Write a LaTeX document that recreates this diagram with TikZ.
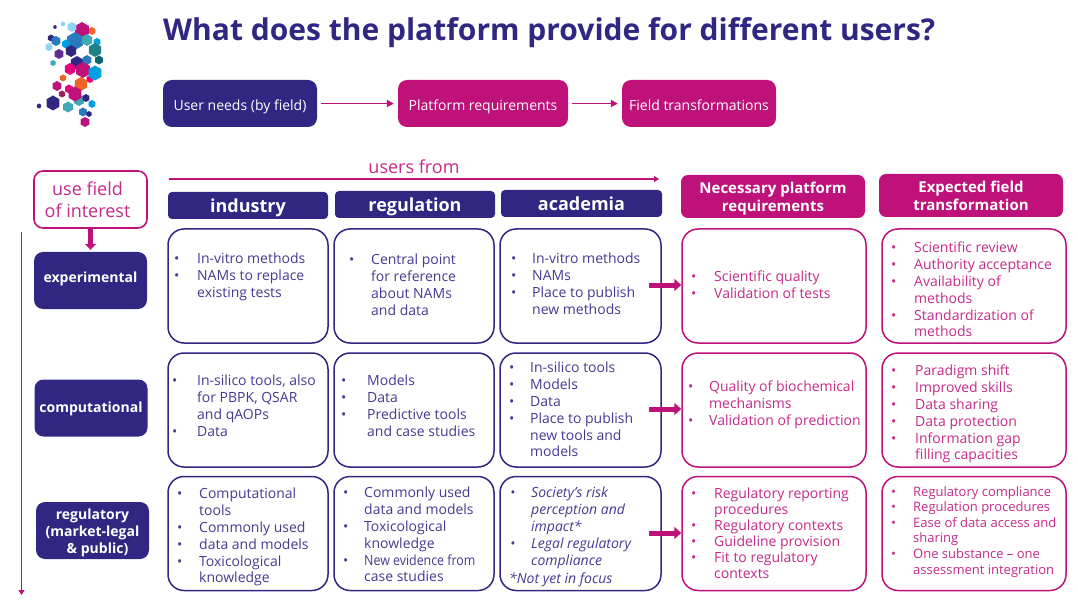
\documentclass[tikz,border=0pt]{standalone}
\usepackage{fontspec}
\setmainfont{Open Sans}
\usetikzlibrary{arrows.meta}
\definecolor{navy}{HTML}{312783}
\definecolor{mag}{HTML}{BE1179}
\definecolor{navytxt}{HTML}{453A91}
\definecolor{magtxt}{HTML}{C42A8A}
\newlength\bulw
\newcommand{\bl}{\makebox[\bulw][l]{\textbullet}}
\newcommand{\cn}{\hspace*{\bulw}}
\newcommand{\dn}[2][-2pt]{\raisebox{#1}[\height][\depth]{#2}}
\tikzstyle{Head}=[draw=none,rounded corners=4pt,inner sep=0pt,align=center,text=white,font=\fontsize{15}{18}\selectfont\bfseries]
\tikzstyle{Navy}=[fill=navy]
\tikzstyle{Mag}=[fill=mag]
\tikzstyle{Top}=[rounded corners=9pt,inner sep=0pt,text=white,font=\fontsize{14}{17}\selectfont]
\tikzstyle{Field}=[Navy,rounded corners=9pt,inner sep=0pt,minimum width=113pt,minimum height=57pt,align=center,text=white,font=\fontsize{14}{17}\selectfont\bfseries]
\tikzstyle{Box}=[draw,rounded corners=16pt,line width=1.5pt,inner sep=0pt]
\tikzstyle{Txt}=[inner sep=0pt,anchor=north west,align=left,font=\fontsize{14}{16.8}\selectfont]
\tikzstyle{Line}=[-{Stealth[length=7pt,width=7pt,inset=0pt]},mag,line width=1.7pt]
\tikzstyle{Axis}=[-{Stealth[length=5pt,width=6pt,inset=0pt]},mag,line width=1.3pt]
\tikzstyle{Thick}=[-{Stealth[length=7pt,width=12pt,inset=0pt]},mag,line width=5pt]
\tikzset{bw/.code={\setlength\bulw{#1}}}
\begin{document}
\begin{tikzpicture}[x=1pt,y=-1pt]
    \useasboundingbox (0,0) rectangle (1078,612);

    % logo
    \foreach \x/\y/\r/\c in {79/100/6/3FA9B5,92/31/4/F0642A,97/42/4/00A0E0,90/79/4/E6007E,
        82/30/8/BE1179,75/41/9/2A7ABF,87/40/6/3FA9B5,72/27/5/8FD3F5,63/24/2.5/8FD3F5,55/27/2/312783,
        51/38/3.5/312783,56/41/5/2A7ABF,49/47/4/8FD3F5,66/44/4.5/00A0E0,71/51/6/312783,59/54/5/5F2D91,
        53/63/3/3FA9B5,77/63/7/312783,87/60/5/2A7ABF,70/69/6/E6007E,83/70/8/BE1179,95/73/7.5/00A0E0,
        95/50/7/1F8085,99/60/4.5/0E6570,63/78/3.5/F0642A,81/84/7/F0642A,57/86/5/BE1179,69/89/4.5/E6007E,
        62/94/3.5/A01D5D,75/94/7.5/BE1179,86/98/4/312783,92/104/4/00A0E0,53/103/7.5/312783,39/106/2.5/312783,
        68/107/5.5/3FA9B5,83/112/4.5/2A7ABF,89/114/3/312783,85/122/5/BE1179}{
        \definecolor{hexc}{HTML}{\c}
        \fill[hexc] (\x,\y-\r) -- ++(0.866*\r,0.5*\r) -- ++(0,\r) -- ++(-0.866*\r,0.5*\r) -- ++(-0.866*\r,-0.5*\r) -- ++(0,-\r) -- cycle;
    }

    \node[inner sep=0pt,text=navy,anchor=west,font=\fontsize{30}{34}\selectfont\bfseries] (title) at (163,33) {What does the platform provide for different users?};

    \node[Top,Navy,minimum width=154pt,minimum height=47pt] (need) at (240,103.5) {\dn[-3pt]{User needs (by field)}};
    \node[Top,Mag,minimum width=170pt,minimum height=47pt] (plat) at (483,103.5) {\dn[-3pt]{Platform requirements}};
    \node[Top,Mag,minimum width=154pt,minimum height=47pt] (tran) at (699,103.5) {\dn{Field transformations}};
    \draw[Line,shorten <=4pt,shorten >=4pt] (need) to (plat);
    \draw[Line,shorten <=4pt,shorten >=4pt] (plat) to (tran);

    % column heads
    \coordinate (ua) at (169,179);
    \coordinate (ub) at (659,179);
    \draw[Axis] (ua) to (ub);
    \node[inner sep=0pt,text=magtxt,font=\fontsize{18}{22}\selectfont] (users) at (414,167) {users from};
    \node[Head,Navy,minimum width=160pt,minimum height=27pt,font=\fontsize{18}{22}\selectfont\bfseries] (hind) at (248,205.5) {\dn{industry}};
    \node[Head,Navy,minimum width=160pt,minimum height=27pt,font=\fontsize{18}{22}\selectfont\bfseries] (hreg) at (415,204.5) {\dn{regulation}};
    \node[Head,Navy,minimum width=161pt,minimum height=27pt,font=\fontsize{18}{22}\selectfont\bfseries] (haca) at (581.5,203.5) {academia};
    \node[Head,Mag,minimum width=184pt,minimum height=43pt,rounded corners=7pt] (hnec) at (773,196.5) {\dn{Necessary platform}\\\dn{requirements}};
    \node[Head,Mag,minimum width=184pt,minimum height=43pt,rounded corners=7pt] (hexp) at (971,195.5) {Expected field\\transformation};

    % fields
    \node[draw=mag,line width=1.6pt,rounded corners=9pt,inner sep=0pt,minimum width=113pt,minimum height=57pt,align=center,text=magtxt,font=\fontsize{18}{22}\selectfont] (use) at (90.5,199.5) {\hspace*{-6pt}use field\\\hspace*{-6pt}of interest};
    \node[Field] (fexp) at (90.5,280.5) {\dn[2pt]{experimental}};
    \node[Field] (fcom) at (91,408) {\dn[-1pt]{computational}};
    \node[Field] (freg) at (92.5,530.5) {\dn{regulatory}\\\dn{(market-legal}\\\hspace*{10pt}\dn{\& public)}};
    \draw[-{Stealth[length=6pt,width=11pt,inset=0pt]},mag,line width=5pt,shorten >=2pt] (use) to (fexp);
    \coordinate (va) at (21.5,232);
    \coordinate (vb) at (21.5,595);
    \draw[Axis] (va) to (vb);

    % experimental row
    \node[Box,navy,minimum width=160pt,minimum height=114pt] (b11) at (248,286) {};
    \node[Box,navy,minimum width=160pt,minimum height=114pt] (b12) at (414,286) {};
    \node[Box,navy,minimum width=161pt,minimum height=114pt] (b13) at (580.5,286) {};
    \node[Box,mag,minimum width=184pt,minimum height=114pt] (b14) at (774,286) {};
    \node[Box,mag,minimum width=184pt,minimum height=114pt] (b15) at (974,286) {};
    \node[Txt,navytxt,bw=23pt] (t11) at (174,253) {\bl In-vitro methods\\\bl NAMs to replace\\\cn existing tests};
    \node[Txt,navytxt,bw=22pt] (t12) at (349,254) {\bl Central point\\\cn for reference\\\cn about NAMs\\\cn and data};
    \node[Txt,navytxt,bw=21pt] (t13) at (511,253) {\bl In-vitro methods\\\bl NAMs\\\bl Place to publish\\\cn new methods};
    \node[Txt,magtxt,bw=23pt] (t14) at (691,271) {\bl Scientific quality\\\bl Validation of tests};
    \node[Txt,magtxt,bw=23pt] (t15) at (891,242) {\bl Scientific review\\\bl Authority acceptance\\\bl Availability of\\\cn methods\\\bl Standardization of\\\cn methods};

    % computational row
    \node[Box,navy,minimum width=160pt,minimum height=114pt] (b21) at (248,410) {};
    \node[Box,navy,minimum width=160pt,minimum height=114pt] (b22) at (414,410) {};
    \node[Box,navy,minimum width=161pt,minimum height=114pt] (b23) at (580.5,410) {};
    \node[Box,mag,minimum width=184pt,minimum height=114pt] (b24) at (774,410) {};
    \node[Box,mag,minimum width=184pt,minimum height=114pt] (b25) at (974,410) {};
    \node[Txt,navytxt,bw=25pt] (t21) at (172,375) {\bl In-silico tools, also\\\cn for PBPK, QSAR\\\cn and qAOPs\\\bl Data};
    \node[Txt,navytxt,bw=26pt] (t22) at (341,375) {\bl Models\\\bl Data\\\bl Predictive tools\\\cn and case studies};
    \node[Txt,navytxt,bw=21pt] (t23) at (509,362) {\bl In-silico tools\\\bl Models\\\bl Data\\\bl Place to publish\\\cn new tools and\\\cn models};
    \node[Txt,magtxt,bw=21pt] (t24) at (688,381) {\bl Quality of biochemical\\\cn mechanisms\\\bl Validation of prediction};
    \node[Txt,magtxt,bw=24pt] (t25) at (891,365) {\bl Paradigm shift\\\bl Improved skills\\\bl Data sharing\\\bl Data protection\\\bl Information gap\\\cn filling capacities};

    % regulatory row
    \node[Box,navy,minimum width=160pt,minimum height=114pt] (b31) at (248,533.5) {};
    \node[Box,navy,minimum width=160pt,minimum height=114pt] (b32) at (414,533.5) {};
    \node[Box,navy,minimum width=161pt,minimum height=114pt] (b33) at (580.5,533.5) {};
    \node[Box,mag,minimum width=184pt,minimum height=114pt] (b34) at (774,533.5) {};
    \node[Box,mag,minimum width=184pt,minimum height=114pt] (b35) at (974,533.5) {};
    \node[Txt,navytxt,bw=22pt] (t31) at (177,488) {\bl Computational\\\cn tools\\\bl Commonly used\\\bl data and models\\\bl Toxicological\\\cn knowledge};
    \node[Txt,navytxt,bw=21pt] (t32) at (343,487) {\bl Commonly used\\\cn data and models\\\bl Toxicological\\\cn knowledge\\\bl \scalebox{.885}[1]{New evidence from}\\\cn case studies};
    \node[Txt,navytxt,bw=21pt,font=\fontsize{14}{17}\selectfont\itshape] (t33) at (510,487) {\bl Society’s risk\\\cn perception and\\\cn impact*\\\bl Legal regulatory\\\cn compliance};
    \node[Txt,navytxt,font=\fontsize{14}{17}\selectfont\itshape] (t33b) at (509,573) {*Not yet in focus};
    \node[Txt,magtxt,bw=23pt,font=\fontsize{14}{16}\selectfont] (t34) at (691,488) {\bl Regulatory reporting\\\cn procedures\\\bl Regulatory contexts\\\bl Guideline provision\\\bl Fit to regulatory\\\cn contexts};
    \node[Txt,magtxt,bw=22pt,font=\fontsize{13}{15.6}\selectfont] (t35) at (891,486) {\bl Regulatory compliance\\\bl Regulation procedures\\\bl Ease of data access and\\\cn sharing\\\bl One substance – one\\\cn assessment integration};

    % thick arrows
    \coordinate (a1) at (649,285);
    \coordinate (a2) at (649,409);
    \coordinate (a3) at (649,533);
    \draw[Thick] (a1) to (b14.west |- a1);
    \draw[Thick] (a2) to (b24.west |- a2);
    \draw[Thick] (a3) to (b34.west |- a3);

\end{tikzpicture}
\end{document}
